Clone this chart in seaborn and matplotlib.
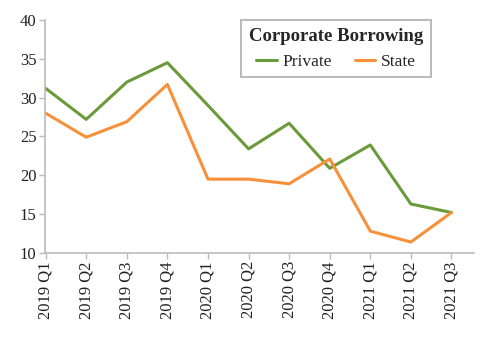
import matplotlib
matplotlib.use("Agg")
import matplotlib.pyplot as plt
import pandas as pd
import seaborn as sns

# quarterly corporate borrowing
quarters = ["2019 Q1", "2019 Q2", "2019 Q3", "2019 Q4",
            "2020 Q1", "2020 Q2", "2020 Q3", "2020 Q4",
            "2021 Q1", "2021 Q2", "2021 Q3"]
private = [31.2, 27.2, 32.0, 34.5, 29.0, 23.4, 26.7, 20.9, 23.9, 16.3, 15.2]
state = [28.0, 24.9, 26.9, 31.7, 19.5, 19.5, 18.9, 22.1, 12.8, 11.4, 15.2]

df = pd.DataFrame({"quarter": quarters * 2,
                   "value": private + state,
                   "series": ["Private"] * len(quarters) + ["State"] * len(quarters)})

sns.set_style("white")
plt.rcParams['font.family'] = ['Liberation Serif', 'DejaVu Serif']

fig = plt.figure(figsize=(4.82, 3.39), dpi=100)
ax = fig.add_axes([0.093, 0.254, 0.89, 0.687])

sns.lineplot(data=df, x="quarter", y="value", hue="series", sort=False,
             palette={"Private": "#6b9a3b", "State": "#f7903a"},
             linewidth=2.2, ax=ax)

ax.set_ylim(10, 40)
ax.set_yticks([10, 15, 20, 25, 30, 35, 40])
ax.set_xlim(-0.02, 10.55)
ax.set_xlabel("")
ax.set_ylabel("")
ax.tick_params(axis="x", rotation=90)
ax.tick_params(axis="both", labelsize=12, colors="#222222", bottom=True, left=True,
               length=4, width=1, direction="out", color="#bbbbbb", pad=2)
for s in ["top", "right"]:
    ax.spines[s].set_visible(False)
for s in ["left", "bottom"]:
    ax.spines[s].set_color("#bbbbbb")
    ax.spines[s].set_linewidth(1.2)

leg = ax.legend(title="Corporate Borrowing", ncol=2, loc="upper right",
                bbox_to_anchor=(0.90, 1.0), borderaxespad=0, fontsize=12.5,
                frameon=True, fancybox=False, handlelength=1.2, handletextpad=0.3,
                columnspacing=1.3, borderpad=0.45)
leg.get_title().set_fontweight("bold")
leg.get_title().set_fontsize(13.5)
leg.get_frame().set_edgecolor("#aaaaaa")
leg.get_frame().set_linewidth(1.5)

fig.savefig("out.png", dpi=100)
